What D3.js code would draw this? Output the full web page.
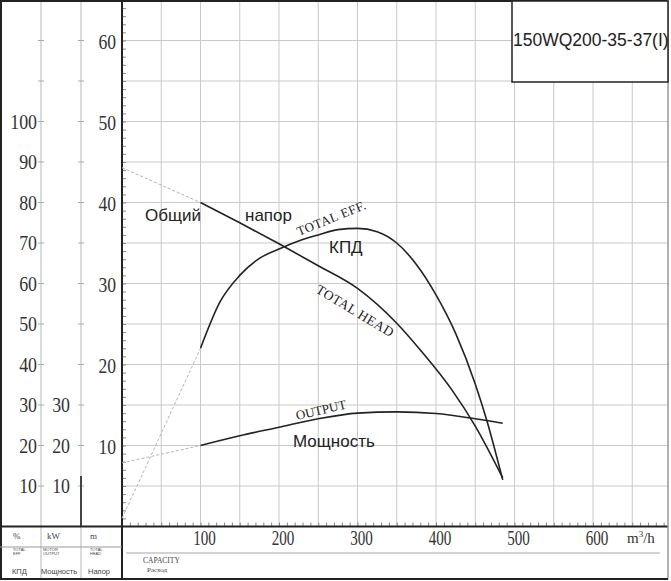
<!DOCTYPE html>
<html>
<head>
<meta charset="utf-8">
<script src="https://cdn.jsdelivr.net/npm/d3@7"></script>
<style>
  html, body { margin: 0; padding: 0; background: #fff; }
  svg { display: block; }
</style>
</head>
<body>
<svg id="chart"></svg>
<script>
// values
const capacityTicks = [100, 200, 300, 400, 500, 600];
const headTicks = [10, 20, 30, 40, 50, 60];
const effTicks = [10, 20, 30, 40, 50, 60, 70, 80, 90, 100];
const powerTicks = [10, 20, 30];

// total head, m
const headQ = [100, 150, 200, 250, 300, 350, 380, 420, 450, 485];
const headH = [40, 37.5, 34.9, 32.2, 29.4, 25.1, 21.8, 16.9, 12.4, 6];
const headExtQ = [0, 100];
const headExtH = [44.3, 40];

// total efficiency, %
const effQ = [100, 125, 150, 175, 200, 225, 250, 275, 300, 325, 350, 375, 400, 425, 450, 465, 485];
const effE = [44, 55.5, 62, 66.2, 68.5, 70.5, 72, 73.3, 73.6, 72.8, 70, 64.7, 57.2, 47.7, 35.2, 26, 11.5];
const effExtQ = [0, 100];
const effExtE = [2, 44];

// output, kW
const powQ = [100, 150, 200, 250, 300, 350, 400, 450, 485];
const powP = [20, 22.4, 24.5, 26.6, 28, 28.3, 27.9, 26.6, 25.5];
const powExtQ = [0, 100];
const powExtP = [15.7, 20];

const modelName = "150WQ200-35-37(I)";

const width = 671;
const height = 581;
const svg = d3.select("#chart").attr("width", width).attr("height", height);

const x = d3.scaleLinear().domain([0, 700]).range([122, 671.5]);
const yHead = d3.scaleLinear().domain([0, 65]).range([526.5, 0]);
const yEff = d3.scaleLinear().domain([0, 130]).range([526.5, 0]);
const yPow = yEff; // kW column shares the % spacing

const gridColor = "#c9c9c9";
const ink = "#222";
const serif = "'Liberation Serif', 'DejaVu Serif', serif";
const sans = "'Liberation Sans', Arial, sans-serif";

// grid
const grid = svg.append("g");
grid.selectAll(".vg")
  .data(d3.range(50, 700, 50))
  .enter()
  .append("line")
  .attr("x1", (d) => x(d)).attr("x2", (d) => x(d))
  .attr("y1", 0).attr("y2", yHead(0))
  .style("stroke", gridColor).style("stroke-width", 1);
grid.selectAll(".hg")
  .data(d3.range(5, 65, 5))
  .enter()
  .append("line")
  .attr("x1", x(0)).attr("x2", 668)
  .attr("y1", (d) => yHead(d)).attr("y2", (d) => yHead(d))
  .style("stroke", gridColor).style("stroke-width", 1);

// left scale columns
[41, 81].forEach((cx) => {
  svg.append("line")
    .attr("x1", cx).attr("x2", cx).attr("y1", 0).attr("y2", 579)
    .style("stroke", "#c4c4c4").style("stroke-width", 1.2);
  svg.selectAll(null)
    .data(d3.range(10, 130, 10))
    .enter()
    .append("line")
    .attr("x1", cx - 3).attr("x2", cx + 3)
    .attr("y1", (d) => yEff(d)).attr("y2", (d) => yEff(d))
    .style("stroke", "#aaa").style("stroke-width", 1);
});
// dark stub on the kW column
svg.append("line")
  .attr("x1", 81).attr("x2", 81).attr("y1", yPow(12.5)).attr("y2", yPow(0))
  .style("stroke", "#444").style("stroke-width", 2);

// minor ticks on head axis and capacity axis
svg.append("g")
  .attr("transform", `translate(${x(0)},0)`)
  .call(d3.axisRight(yHead).tickValues(d3.range(1, 65, 1)).tickSize(4).tickFormat(""))
  .call((g) => g.select(".domain").remove())
  .call((g) => g.selectAll("line").style("stroke", "#888"));
svg.append("g")
  .attr("transform", `translate(0,${yHead(0)})`)
  .call(d3.axisTop(x).tickValues(d3.range(10, 700, 10)).tickSize(4).tickFormat(""))
  .call((g) => g.select(".domain").remove())
  .call((g) => g.selectAll("line").style("stroke", "#888"));

// frame and main axes
svg.append("line").attr("x1", x(0)).attr("x2", x(0)).attr("y1", 0).attr("y2", 579)
  .style("stroke", ink).style("stroke-width", 2);
svg.append("line").attr("x1", 0).attr("x2", 668).attr("y1", yHead(0)).attr("y2", yHead(0))
  .style("stroke", ink).style("stroke-width", 2);
svg.append("line").attr("x1", 0).attr("x2", 668).attr("y1", 1).attr("y2", 1)
  .style("stroke", ink).style("stroke-width", 2);
svg.append("line").attr("x1", 1).attr("x2", 1).attr("y1", 0).attr("y2", 579)
  .style("stroke", ink).style("stroke-width", 2);
svg.append("line").attr("x1", 668).attr("x2", 668).attr("y1", 0).attr("y2", 579)
  .style("stroke", "#999").style("stroke-width", 1.5);
svg.append("line").attr("x1", 0).attr("x2", 668).attr("y1", 579).attr("y2", 579)
  .style("stroke", ink).style("stroke-width", 2);
svg.append("line").attr("x1", 0).attr("x2", x(0)).attr("y1", 547).attr("y2", 547)
  .style("stroke", "#999").style("stroke-width", 1);
svg.append("line").attr("x1", 126).attr("x2", 660).attr("y1", 553).attr("y2", 553)
  .style("stroke", "#c4c4c4").style("stroke-width", 1.5);

// condensed serif tick labels
const numLabel = (g, tx, ty, txt, size, sx, anchor) =>
  g.append("text")
    .attr("transform", `translate(${tx},${ty}) scale(${sx},1)`)
    .attr("text-anchor", anchor)
    .attr("dy", "0.35em")
    .style("font-family", serif)
    .style("font-size", size + "px")
    .style("fill", "#333")
    .text(txt);

const labels = svg.append("g");
effTicks.forEach((d) => numLabel(labels, 37, yEff(d), d, 21, 0.85, "end"));
powerTicks.forEach((d) => numLabel(labels, 70, yPow(d), d, 21, 0.85, "end"));
headTicks.forEach((d) => numLabel(labels, 116, yHead(d) + 1, d, 22, 0.8, "end"));
capacityTicks.forEach((d) => numLabel(labels, x(d) + 4, 538, d, 21, 0.72, "middle"));

labels.append("text")
  .attr("x", 627).attr("y", 543)
  .style("font-family", serif).style("font-size", "15px").style("fill", "#333")
  .html("m<tspan dy='-6' font-size='9'>3</tspan><tspan dy='6'>/h</tspan>");

// bottom header cells
const small = (tx, ty, txt, size, family) =>
  svg.append("text")
    .attr("x", tx).attr("y", ty)
    .style("font-family", family)
    .style("font-size", size + "px")
    .style("fill", "#444")
    .text(txt);
small(13, 539, "%", 9, serif);
small(47, 539, "kW", 9, serif);
small(90, 539, "m", 9, serif);
small(13, 551, "TOTAL", 4, sans);
small(13, 555, "EFF", 4, sans);
small(43, 551, "MOTOR", 4, sans);
small(43, 555, "OUTPUT", 4, sans);
small(90, 551, "TOTAL", 4, sans);
small(90, 555, "HEAD", 4, sans);
small(12, 574, "КПД", 7.5, sans);
small(41, 574, "Мощность", 7.5, sans);
small(88, 574, "Напор", 7.5, sans);
small(143, 563, "CAPACITY", 7.5, serif);
small(147, 572, "Расход", 7, serif);

// curves
const curve = (qs, vs, yScale) => {
  const pts = qs.map((q, i) => [x(q), yScale(vs[i])]);
  return d3.line().curve(d3.curveMonotoneX)(pts);
};
const curves = svg.append("g").style("fill", "none");

[[headExtQ, headExtH, yHead], [effExtQ, effExtE, yEff], [powExtQ, powExtP, yPow]].forEach(([q, v, s]) => {
  curves.append("path")
    .attr("d", curve(q, v, s))
    .style("stroke", "#b5b5b5")
    .style("stroke-width", 1)
    .style("stroke-dasharray", "3,2");
});

[[headQ, headH, yHead], [effQ, effE, yEff], [powQ, powP, yPow]].forEach(([q, v, s]) => {
  curves.append("path")
    .attr("d", curve(q, v, s))
    .style("stroke", ink)
    .style("stroke-width", 1.6);
});

// curve captions
const caption = (tx, ty, angle, txt, size, family, spacing) =>
  svg.append("text")
    .attr("transform", `translate(${tx},${ty}) rotate(${angle})`)
    .style("font-family", family)
    .style("font-size", size + "px")
    .style("letter-spacing", (spacing || 0) + "px")
    .style("fill", "#222")
    .text(txt);

caption(145, 221, 0, "Общий", 17, sans);
caption(245, 221, 0, "напор", 17, sans);
caption(329, 253, 0, "КПД", 17, sans);
caption(293, 447, 0, "Мощность", 17, sans);
caption(299, 236, -22, "TOTAL EFF.", 13, serif, 0.5);
caption(315, 292, 31, "TOTAL HEAD", 13.5, serif, 0.5);
caption(297, 420, -13, "OUTPUT", 13, serif, 0);

// model box
svg.append("rect")
  .attr("x", 512).attr("y", 1).attr("width", 156).attr("height", 81)
  .style("fill", "#fff").style("stroke", ink).style("stroke-width", 1.5);
svg.append("text")
  .attr("x", 513).attr("y", 46)
  .style("font-family", sans)
  .style("font-size", "17.5px")
  .style("fill", "#222")
  .text(modelName);
</script>
</body>
</html>
